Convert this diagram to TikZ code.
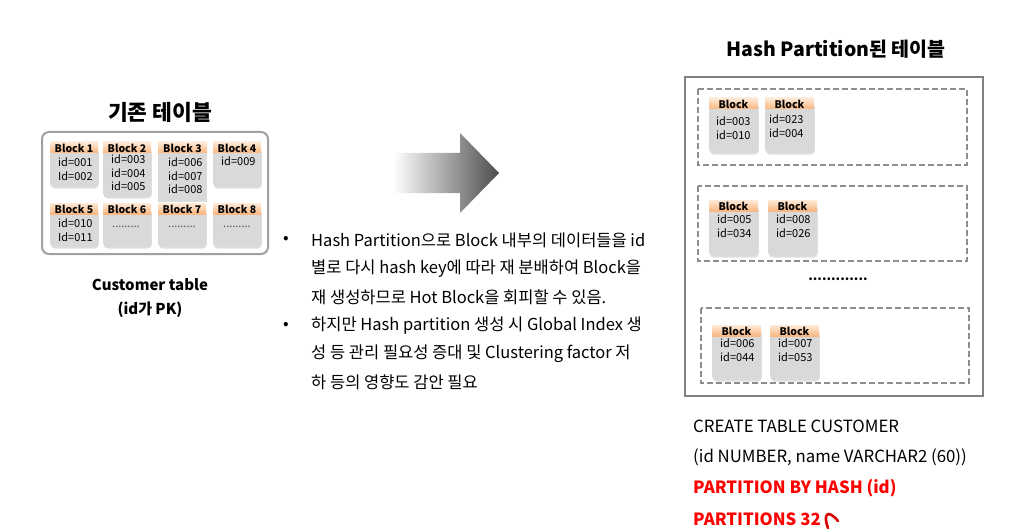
\documentclass[tikz,border=0pt]{standalone}
\usepackage{fontspec}
\setmainfont{Noto Sans CJK KR}
\usetikzlibrary{shadows}

\definecolor{boxgray}{RGB}{217,217,217}
\definecolor{framegray}{RGB}{160,160,160}
\definecolor{outergray}{RGB}{128,128,128}
\definecolor{peach}{RGB}{253,234,216}
\definecolor{tangerine}{RGB}{249,182,128}
\definecolor{sqlred}{RGB}{255,0,0}

\tikzset{
  blkbody/.style={fill=boxgray, rounded corners=4pt,
    drop shadow={opacity=0.25, shadow xshift=0.8pt, shadow yshift=-1.6pt}},
  blkhead/.style={top color=peach, bottom color=tangerine},
  headtext/.style={font=\fontsize{10.5}{12}\selectfont\bfseries, inner sep=0pt},
  idtext/.style={font=\fontsize{11}{13.5}\selectfont, align=left, inner sep=0pt, anchor=north west},
  part/.style={draw=outergray!90, line width=1.6pt, dash pattern=on 6pt off 3pt},
  bodytext/.style={font=\fontsize{16.5}{18}\selectfont, anchor=west, inner sep=0pt},
  sqltext/.style={font=\fontsize{16.8}{19}\selectfont, anchor=west, inner sep=0pt},
}

\begin{document}
\begin{tikzpicture}[x=1pt, y=-1pt]
  \useasboundingbox (0,0) rectangle (1012,532);

  % existing table
  \node[font=\fontsize{21.5}{24}\selectfont\bfseries] (oldtitle) at (160,112) {기존 테이블};
  \draw[framegray, line width=2pt, rounded corners=7pt] (42,132) rectangle (268,254);

  % row 1
  \foreach \n/\x/\bot/\ty/\tx/\ids in {1/50/187/158/8/{id=001\\Id=002},
                                  2/103/197/155/8/{id=003\\id=004\\id=005},
                                  4/213/187/157/8/{id=009}} {
    \path[blkbody] (\x,147) rectangle (\x+48,\bot);
    \shade[blkhead] (\x,142) rectangle (\x+48,153);
    \node[headtext] (h\n) at (\x+24,148) {Block \n};
    \node[idtext] (ids\n) at (\x+\tx,\ty) {\ids};
  }
  \fill[boxgray] (158,147) rectangle (207,202);
  \shade[blkhead] (158,142) rectangle (207,153);
  \node[headtext] (h3) at (182.5,148) {Block 3};
  \node[idtext] (ids3) at (168,158) {id=006\\id=007\\id=008};

  % row 2
  \foreach \n/\x/\tx/\ids in {5/50/8/{id=010\\Id=011},
                         6/103/9/{\vphantom{I}\textcolor{black!70}{.........}},
                         7/158/10/{\vphantom{I}\textcolor{black!70}{.........}},
                         8/213/10/{\vphantom{I}\textcolor{black!70}{.........}}} {
    \path[blkbody] (\x,208) rectangle (\x+48,247);
    \shade[blkhead] (\x,203) rectangle (\x+48,214);
    \node[headtext] (h\n) at (\x+24,209) {Block \n};
    \node[idtext] (ids\n) at (\x+\tx,219) {\ids};
  }

  \node[font=\fontsize{15}{17}\selectfont\bfseries] (cust) at (150,285) {Customer table};
  \node[font=\fontsize{15}{17}\selectfont\bfseries] (pk) at (150,310) {(id가 PK)};

  % big arrow
  \shade[left color=white, right color=black!70]
    (393,153) -- (460,153) -- (460,133) -- (499,173) -- (460,213) -- (460,193) -- (393,193) -- cycle;

  % notes
  \node[bodytext] (b1) at (283,240) {•};
  \node[bodytext] (b2) at (283,326) {•};
  \node[bodytext] (l1) at (311,240) {Hash Partition으로 Block 내부의 데이터들을 id};
  \node[bodytext] (l2) at (311,269) {별로 다시 hash key에 따라 재 분배하여 Block을};
  \node[bodytext] (l3) at (311,297) {재 생성하므로 Hot Block을 회피할 수 있음.};
  \node[bodytext] (l4) at (311,326) {하지만 Hash partition 생성 시 Global Index 생};
  \node[bodytext] (l5) at (311,354) {성 등 관리 필요성 증대 및 Clustering factor 저};
  \node[bodytext] (l6) at (311,382) {하 등의 영향도 감안 필요};

  % hash partitioned table
  \node[font=\fontsize{19.5}{22}\selectfont\bfseries] (newtitle) at (836,49) {Hash Partition된 테이블};
  \draw[outergray, line width=2pt] (685,77) rectangle (983,396);

  \draw[part] (698,89) rectangle (967,165);
  \draw[part] (698,186) rectangle (967,261);
  \draw[part] (701,308) rectangle (969,383);

  \foreach \n/\x/\hy/\bot/\tx/\ty/\ids in {a/709/98/153/7/117/{id=003\\id=010},
                                    b/765/98/153/4/115/{id=023\\id=004},
                                    c/709/200/256/8/215/{id=005\\id=034},
                                    d/768/200/256/8/215/{id=008\\id=026},
                                    e/712/325/380/8/339/{id=006\\id=044},
                                    f/770/325/380/8/339/{id=007\\id=053}} {
    \path[blkbody] (\x,\hy+4) rectangle (\x+49,\bot);
    \shade[blkhead] (\x,\hy) rectangle (\x+49,\hy+11);
    \node[headtext] (ph\n) at (\x+24.5,\hy+6) {Block};
    \node[idtext] (pid\n) at (\x+\tx,\ty) {\ids};
  }

  \node[font=\fontsize{13}{15}\selectfont\bfseries] (gap) at (838,279) {.............};

  % DDL
  \node[sqltext] (q1) at (693,426) {CREATE TABLE CUSTOMER};
  \node[sqltext] (q2) at (693,457) {(id NUMBER, name VARCHAR2 (60))};
  \node[sqltext, sqlred, font=\fontsize{16.8}{19}\selectfont\bfseries] (q3) at (693,488) {PARTITION BY HASH (id)};
  \node[sqltext, sqlred, font=\fontsize{16.8}{19}\selectfont\bfseries] (q4) at (693,519) {PARTITIONS 32};
  \draw[sqlred!85!black, line width=2.6pt, line cap=round]
    (828,528) .. controls (823,515) and (827,508) .. (838,521);
\end{tikzpicture}
\end{document}
